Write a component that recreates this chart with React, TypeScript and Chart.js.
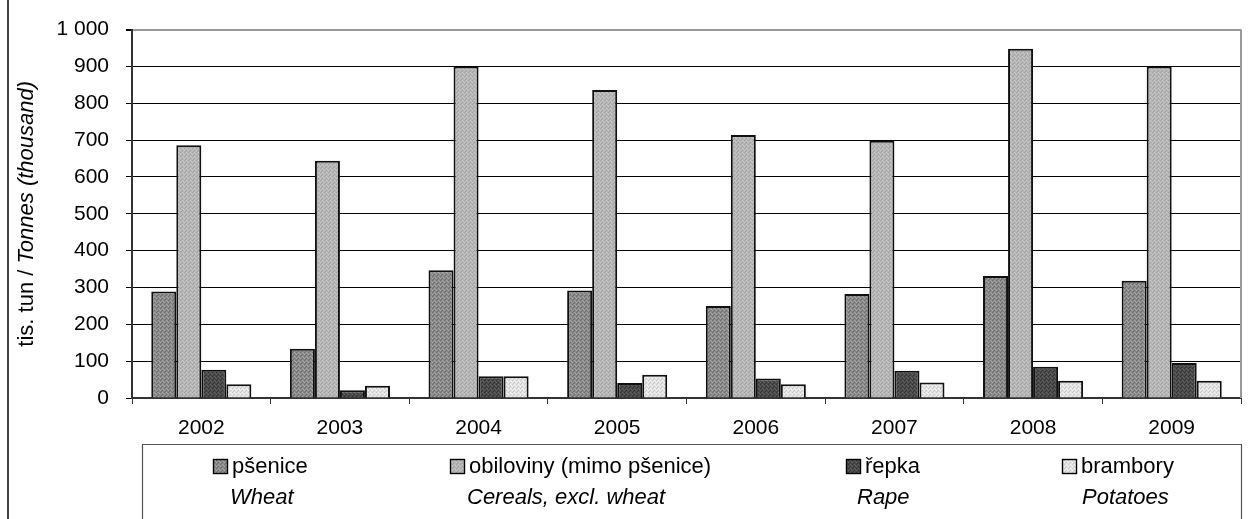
import React, { useEffect, useRef } from "react";
import { Chart, registerables } from "chart.js";

Chart.register(...registerables);

// ---- data ----
const years = ["2002", "2003", "2004", "2005", "2006", "2007", "2008", "2009"];
const wheat = [289, 134, 347, 292, 250, 282, 331, 318];
const cereals = [686, 644, 900, 836, 714, 698, 948, 900];
const rape = [77, 21, 59, 41, 53, 74, 85, 95];
const potatoes = [37, 33, 59, 63, 37, 42, 47, 47];
const seriesCz = ["pšenice", "obiloviny (mimo pšenice)", "řepka", "brambory"];
const seriesEn = ["Wheat", "Cereals, excl. wheat", "Rape", "Potatoes"];
const yTitleCz = "tis. tun / ";
const yTitleEn = "Tonnes (thousand)";
const yMin = 0;
const yMax = 1000;
const yStep = 100;

const FONT = "'Liberation Sans', Arial, sans-serif";

function makePattern(
  ctx: CanvasRenderingContext2D,
  base: string,
  dark: string,
  light: string
) {
  const c = document.createElement("canvas");
  c.width = 4;
  c.height = 4;
  const g = c.getContext("2d")!;
  g.fillStyle = base;
  g.fillRect(0, 0, 4, 4);
  g.fillStyle = dark;
  g.fillRect(0, 0, 1, 1);
  g.fillRect(2, 2, 1, 1);
  g.fillRect(1, 3, 1, 1);
  g.fillStyle = light;
  g.fillRect(2, 0, 1, 1);
  g.fillRect(0, 2, 1, 1);
  g.fillRect(3, 1, 1, 1);
  return ctx.createPattern(c, "repeat")!;
}

function fmt(v: number) {
  return String(v).replace(/\B(?=(\d{3})+(?!\d))/g, " ");
}

export default function App() {
  const ref = useRef<HTMLCanvasElement | null>(null);

  useEffect(() => {
    const canvas = ref.current!;
    const ctx0 = canvas.getContext("2d")!;
    const fills = [
      makePattern(ctx0, "#8a8a8a", "#6c6c6c", "#a4a4a4"),
      makePattern(ctx0, "#b6b6b6", "#a2a2a2", "#c6c6c6"),
      makePattern(ctx0, "#4a4a4a", "#333333", "#626262"),
      makePattern(ctx0, "#e2e2e2", "#c8c8c8", "#f4f4f4"),
    ];
    const seriesData = [wheat, cereals, rape, potatoes];

    const decorPlugin = {
      id: "decor",
      beforeDatasetsDraw(chart: any) {
        const { ctx, chartArea } = chart;
        ctx.save();
        ctx.strokeStyle = "#999";
        ctx.lineWidth = 2;
        ctx.beginPath();
        ctx.moveTo(chartArea.right, chartArea.top);
        ctx.lineTo(chartArea.right, chartArea.bottom);
        ctx.stroke();
        ctx.restore();
      },
      afterDraw(chart: any) {
        const { ctx, chartArea } = chart;
        ctx.save();
        // outer frame left line
        ctx.strokeStyle = "#000";
        ctx.lineWidth = 1.5;
        ctx.beginPath();
        ctx.moveTo(8, 0);
        ctx.lineTo(8, 519);
        ctx.stroke();

        // y title
        ctx.save();
        const cy = (chartArea.top + chartArea.bottom) / 2;
        ctx.translate(33, cy);
        ctx.rotate(-Math.PI / 2);
        ctx.fillStyle = "#000";
        ctx.textBaseline = "alphabetic";
        ctx.font = `22px ${FONT}`;
        const w1 = ctx.measureText(yTitleCz).width;
        ctx.font = `italic 22px ${FONT}`;
        const w2 = ctx.measureText(yTitleEn).width;
        let x = -(w1 + w2) / 2;
        ctx.font = `22px ${FONT}`;
        ctx.textAlign = "left";
        ctx.fillText(yTitleCz, x, 0);
        x += w1;
        ctx.font = `italic 22px ${FONT}`;
        ctx.fillText(yTitleEn, x, 0);
        ctx.restore();

        // legend box
        const lx = 142.5;
        const lr = chartArea.right + 0.5;
        const ly = 444.5;
        ctx.strokeStyle = "#555";
        ctx.lineWidth = 1.2;
        ctx.beginPath();
        ctx.moveTo(lx, 530);
        ctx.lineTo(lx, ly);
        ctx.lineTo(lr, ly);
        ctx.lineTo(lr, 530);
        ctx.stroke();

        const sqX = [213, 450, 846, 1062];
        const enX = [230, 467, 857, 1082];
        ctx.textAlign = "left";
        ctx.textBaseline = "alphabetic";
        for (let i = 0; i < seriesCz.length; i++) {
          ctx.fillStyle = fills[i];
          ctx.fillRect(sqX[i], 459.5, 14, 14);
          ctx.strokeStyle = "#000";
          ctx.lineWidth = 1.4;
          ctx.strokeRect(sqX[i] + 0.5, 459.5, 14, 14);
          ctx.fillStyle = "#000";
          ctx.font = `22px ${FONT}`;
          ctx.fillText(seriesCz[i], sqX[i] + 19, 473);
          ctx.font = `italic 22px ${FONT}`;
          ctx.fillText(seriesEn[i], enX[i], 504);
        }
        ctx.restore();
      },
    };

    const chart = new Chart(canvas, {
      type: "bar",
      data: {
        labels: years,
        datasets: seriesData.map((d, i) => ({
          label: seriesCz[i],
          data: d,
          backgroundColor: fills[i] as any,
          borderColor: "#111",
          borderWidth: 2,
          categoryPercentage: 0.722,
          barPercentage: 1.0,
        })),
      },
      options: {
        animation: false,
        responsive: true,
        maintainAspectRatio: false,
        events: [],
        layout: { padding: { left: 0, right: 17, top: 24, bottom: 0 } },
        plugins: {
          legend: { display: false },
          tooltip: { enabled: false },
        },
        scales: {
          x: {
            grid: {
              display: true,
              drawOnChartArea: false,
              drawTicks: true,
              tickLength: 6,
              color: "#333",
              offset: true,
            },
            border: { display: true, color: "#333", width: 2 },
            ticks: {
              color: "#000",
              font: { family: FONT, size: 21 },
              padding: 12,
              maxRotation: 0,
            },
            afterFit: (s: any) => {
              s.height = 121;
            },
          },
          y: {
            min: yMin,
            max: yMax,
            ticks: {
              stepSize: yStep,
              color: "#000",
              font: { family: FONT, size: 21 },
              padding: 17,
              callback: (v: any) => fmt(Number(v)),
            },
            grid: {
              color: (c: any) => (c.tick && c.tick.value === yMax ? "#999" : "#000"),
              lineWidth: (c: any) => (c.tick && c.tick.value === yMax ? 2 : 1),
              tickColor: "#000",
              tickLength: 6,
              drawTicks: true,
            },
            border: { display: true, color: "#333", width: 2 },
            afterFit: (s: any) => {
              s.width = 132;
            },
          },
        },
      },
      plugins: [decorPlugin],
    });

    return () => chart.destroy();
  }, []);

  return (
    <div
      style={{
        position: "fixed",
        left: 0,
        top: 0,
        width: "1258px",
        height: "519px",
        background: "#fff",
      }}
    >
      <canvas ref={ref} />
    </div>
  );
}
